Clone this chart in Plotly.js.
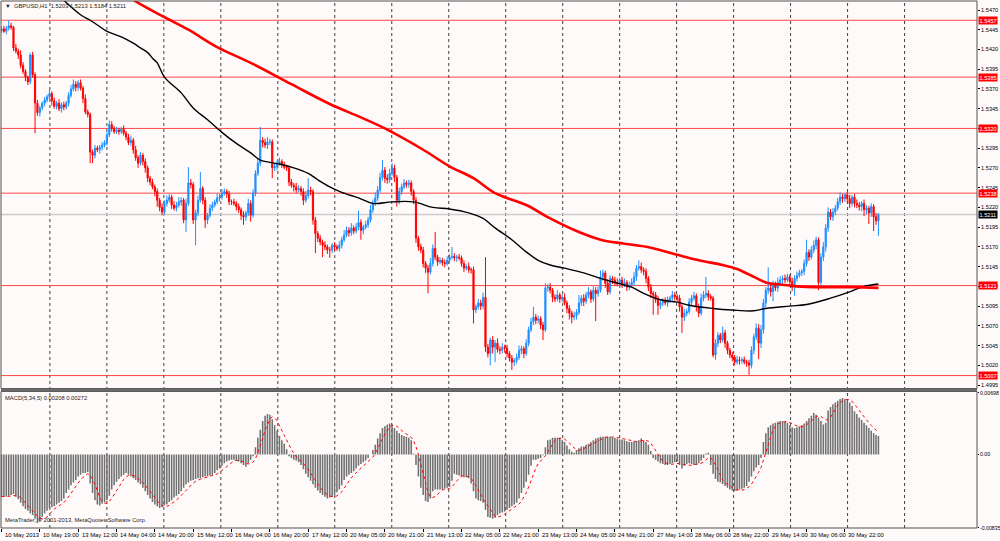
<!DOCTYPE html>
<html><head><meta charset="utf-8">
<script src="https://cdn.plot.ly/plotly-3.0.1.min.js"></script>
<style>html,body{margin:0;padding:0;background:#fffafa;}#chart{width:1000px;height:541px;}</style>
</head><body><div id="chart"></div>
<script>
// ---- DATA ----
const symbolTitle = 'GBPUSD,H1  1.5203 1.5213 1.5184 1.5211';
const macdTitle = 'MACD(5,34,5) 0.00208 0.00272';
const copyright = 'MetaTrader, \u00a9 2001-2013, MetaQuotes Software Corp.';
const firstOpen = 1.5444;
const closes = [
1.5446,1.5443,1.5447,1.5450,1.5448,1.5422,1.5418,1.5413,1.5400,1.5392,1.5385,1.5379,1.5413,1.5388,1.5352,1.5340,
1.5346,1.5352,1.5356,1.5360,1.5364,1.5355,1.5348,1.5352,1.5345,1.5350,1.5347,1.5352,1.5362,1.5370,1.5376,1.5372,
1.5378,1.5371,1.5358,1.5341,1.5338,1.5290,1.5286,1.5295,1.5293,1.5296,1.5299,1.5302,1.5312,1.5325,1.5320,1.5316,
1.5318,1.5316,1.5319,1.5314,1.5309,1.5302,1.5305,1.5293,1.5283,1.5276,1.5286,1.5278,1.5270,1.5257,1.5252,1.5246,
1.5240,1.5229,1.5220,1.5214,1.5225,1.5229,1.5233,1.5223,1.5219,1.5223,1.5227,1.5229,1.5204,1.5225,1.5251,1.5249,
1.5204,1.5213,1.5229,1.5244,1.5229,1.5204,1.5210,1.5219,1.5223,1.5227,1.5232,1.5233,1.5238,1.5240,1.5237,1.5227,
1.5227,1.5225,1.5221,1.5217,1.5210,1.5208,1.5213,1.5225,1.5210,1.5238,1.5263,1.5276,1.5305,1.5302,1.5299,1.5303,
1.5303,1.5270,1.5272,1.5276,1.5278,1.5274,1.5271,1.5270,1.5252,1.5248,1.5246,1.5242,1.5244,1.5240,1.5229,1.5235,
1.5242,1.5240,1.5204,1.5187,1.5181,1.5176,1.5172,1.5170,1.5166,1.5166,1.5172,1.5170,1.5168,1.5172,1.5179,1.5185,
1.5191,1.5188,1.5194,1.5190,1.5195,1.5201,1.5191,1.5195,1.5198,1.5204,1.5217,1.5225,1.5232,1.5242,1.5258,1.5267,
1.5257,1.5255,1.5263,1.5270,1.5258,1.5229,1.5240,1.5246,1.5251,1.5249,1.5251,1.5240,1.5229,1.5181,1.5170,1.5166,
1.5149,1.5143,1.5138,1.5149,1.5168,1.5157,1.5151,1.5153,1.5150,1.5149,1.5153,1.5157,1.5158,1.5156,1.5157,1.5156,
1.5149,1.5143,1.5145,1.5141,1.5141,1.5090,1.5094,1.5099,1.5095,1.5106,1.5043,1.5035,1.5052,1.5043,1.5048,1.5040,
1.5039,1.5043,1.5042,1.5035,1.5029,1.5024,1.5026,1.5030,1.5039,1.5041,1.5035,1.5048,1.5065,1.5075,1.5081,1.5077,
1.5079,1.5071,1.5065,1.5118,1.5119,1.5115,1.5106,1.5104,1.5109,1.5104,1.5106,1.5099,1.5092,1.5086,1.5081,1.5083,
1.5087,1.5099,1.5105,1.5101,1.5109,1.5113,1.5104,1.5115,1.5111,1.5115,1.5132,1.5137,1.5124,1.5113,1.5130,1.5128,
1.5125,1.5123,1.5128,1.5122,1.5125,1.5119,1.5122,1.5125,1.5132,1.5143,1.5145,1.5141,1.5139,1.5130,1.5119,1.5111,
1.5109,1.5103,1.5096,1.5099,1.5101,1.5099,1.5103,1.5105,1.5109,1.5107,1.5105,1.5094,1.5081,1.5086,1.5088,1.5100,
1.5105,1.5108,1.5094,1.5086,1.5105,1.5109,1.5111,1.5107,1.5105,1.5033,1.5048,1.5058,1.5052,1.5061,1.5048,1.5039,
1.5033,1.5030,1.5024,1.5027,1.5026,1.5027,1.5024,1.5023,1.5020,1.5039,1.5056,1.5067,1.5048,1.5065,1.5099,1.5115,
1.5118,1.5113,1.5122,1.5118,1.5125,1.5128,1.5130,1.5128,1.5132,1.5126,1.5119,1.5130,1.5134,1.5137,1.5139,1.5149,
1.5163,1.5157,1.5166,1.5172,1.5179,1.5125,1.5157,1.5170,1.5194,1.5214,1.5208,1.5214,1.5219,1.5227,1.5233,1.5231,
1.5236,1.5231,1.5225,1.5233,1.5225,1.5223,1.5221,1.5225,1.5217,1.5219,1.5213,1.5221,1.5208,1.5203,1.5211];
// upper / lower shadow lengths in pips
const hiWick = [
3,4,3,7,4,2,5,3,6,4,3,2,3,4,3,4,
3,2,4,3,5,3,4,3,5,3,4,3,4,5,6,4,
3,4,3,5,3,2,3,4,3,3,4,3,3,5,4,3,
4,3,3,5,3,4,6,3,5,3,4,3,4,3,3,4,
3,4,3,5,4,6,4,3,5,4,6,4,3,6,20,5,
3,4,6,21,3,4,3,5,4,3,6,4,5,4,3,4,
3,4,3,4,3,5,3,6,4,5,4,6,17,4,5,6,
4,3,4,3,5,3,4,3,3,4,3,5,4,3,4,6,
15,4,3,4,3,4,3,5,3,4,3,4,3,5,4,6,
5,4,6,3,5,15,4,3,5,4,6,5,7,5,6,13,
4,5,6,6,4,3,5,4,5,3,4,3,3,4,3,4,
4,3,4,7,5,21,3,4,3,4,5,4,12,4,3,4,
3,4,3,5,3,4,3,5,4,6,51,4,3,5,4,6,
4,5,3,4,3,4,3,5,6,4,3,5,4,5,13,4,
4,3,4,6,4,5,3,4,6,3,4,5,3,4,3,5,
4,10,4,5,4,6,3,5,4,5,8,4,3,5,4,3,
4,5,3,4,5,3,4,5,6,4,8,5,3,4,3,4,
3,4,5,3,4,5,4,3,5,4,3,4,3,5,4,5,
4,5,3,4,6,5,21,4,3,3,5,4,3,8,4,3,
3,4,3,5,4,3,4,3,4,5,4,6,5,6,5,4,
26,4,5,4,6,5,4,5,4,3,5,4,5,4,3,5,
16,4,5,6,4,3,5,6,5,6,4,5,4,5,6,4,
2,4,5,3,4,5,4,3,5,4,3,4,3,5,2];
const loWick = [
3,2,4,3,3,4,3,5,4,3,5,4,3,4,38,4,
5,3,4,3,3,6,3,4,3,5,4,3,4,3,3,5,
4,3,6,3,4,14,10,4,3,5,4,3,4,3,4,3,
3,4,3,3,4,3,4,5,4,6,3,5,6,5,4,3,
6,8,5,4,3,4,3,5,3,4,3,5,4,15,3,5,
5,32,4,3,5,10,5,3,4,3,3,4,3,3,5,4,
4,3,5,4,6,10,5,4,8,3,4,3,4,6,4,5,
4,13,4,5,3,4,3,4,5,3,6,4,3,5,6,3,
4,5,6,25,5,4,15,4,5,10,4,5,3,4,4,3,
3,5,4,4,3,4,12,5,3,4,3,4,3,4,3,4,
6,5,4,3,6,8,5,4,3,4,4,5,5,6,5,4,
5,6,27,3,4,4,5,3,4,5,3,4,3,4,5,3,
4,5,3,4,5,17,4,3,5,4,6,5,15,8,19,4,
5,4,6,5,4,10,5,4,3,5,6,3,4,3,4,5,
4,5,13,3,5,4,6,4,3,5,4,3,6,8,8,4,
5,3,4,6,3,4,5,3,35,4,3,5,6,4,3,5,
4,3,5,4,3,5,4,3,4,5,3,4,5,6,5,6,
25,4,12,5,4,3,5,4,3,5,4,6,20,5,4,3,
4,3,6,5,3,4,4,5,3,3,6,5,4,3,6,5,
4,5,4,3,5,4,3,5,12,4,5,4,20,6,5,6,
5,6,12,4,5,4,5,4,3,6,5,11,4,3,4,5,
4,5,3,4,5,10,4,5,6,5,4,5,4,3,4,5,
4,5,6,4,5,4,5,6,8,6,14,5,18,5,19];
// MACD main values, in units of 0.0001
const macdMain = [
-48,-48,-48,-47,-46,-45,-48,-51,-55,-59,-62,-64,-67,-69,-73,-78,
-76,-71,-67,-64,-61,-60,-59,-57,-55,-53,-50,-44,-40,-35,-32,-29,
-25,-23,-21,-21,-20,-33,-44,-52,-57,-58,-56,-54,-52,-47,-40,-35,
-31,-28,-25,-23,-21,-23,-25,-27,-29,-32,-34,-38,-42,-46,-50,-54,
-57,-59,-61,-60,-58,-57,-54,-52,-49,-47,-45,-42,-38,-34,-32,-30,
-29,-28,-27,-27,-26,-25,-25,-24,-23,-21,-18,-16,-13,-10,-8,-7,
-6,-6,-7,-8,-10,-12,-14,-10,-6,-2,8,19,28,38,44,46,
45,40,33,27,21,16,12,6,-2,-4,-6,-7,-9,-12,-17,-22,
-26,-30,-34,-38,-41,-44,-46,-48,-50,-49,-48,-46,-43,-40,-35,-29,
-25,-23,-21,-19,-16,-13,-11,-9,-7,-4,0,5,11,18,24,30,
32,34,35,34,30,27,24,22,21,20,19,16,1,-12,-25,-38,
-46,-53,-54,-50,-42,-40,-40,-40,-40,-39,-38,-37,-30,-22,-23,-24,
-25,-26,-26,-27,-33,-42,-50,-52,-53,-55,-63,-71,-72,-73,-72,-69,
-67,-66,-65,-63,-61,-59,-57,-55,-50,-44,-38,-31,-23,-13,-6,-6,
-5,-4,-1,8,16,17,19,19,19,19,16,14,10,6,3,2,
5,7,9,9,11,12,14,16,18,19,20,20,20,20,20,19,
19,18,17,17,16,15,14,14,15,15,16,18,16,14,11,4,
-4,-6,-8,-10,-11,-12,-12,-11,-10,-9,-8,-12,-16,-13,-11,-10,
-11,-12,-12,-10,-7,-4,1,2,-12,-22,-28,-31,-32,-34,-36,-38,
-40,-41,-42,-41,-40,-39,-38,-36,-31,-25,-19,-15,-12,-4,14,24,
31,33,35,36,37,38,38,37,36,33,31,30,31,32,33,35,
38,41,44,47,45,42,38,34,36,50,54,57,59,61,63,64,
63,61,59,55,49,46,42,39,36,33,30,27,24,22,21];
const timeLabels = ['10 May 2013','10 May 19:00','13 May 12:00','14 May 04:00','14 May 20:00','15 May 12:00',
'16 May 04:00','16 May 20:00','17 May 12:00','20 May 05:00','20 May 21:00','21 May 13:00','22 May 05:00',
'22 May 21:00','23 May 13:00','24 May 05:00','24 May 21:00','27 May 14:00','28 May 06:00','28 May 22:00',
'29 May 14:00','30 May 06:00','30 May 22:00'];
const blackMaBar = [25,33,37,40,44,50,55,58,61,63,65,68,75,80,86,92,98,104,108,112,116,122,128,132,137,142,149,155,163,172,180,187,195,201,206,213,218,224,229,235,243,250,257,263,268,275,282,287,297,305,314,319,329,336,346,354,360,366];
const blackMaVal = [1.5485,1.5464,1.5457,1.5451,1.5443,1.5436,1.5428,1.5422,1.5416,1.5409,1.5403,1.5385,1.5365,1.5346,1.5331,1.5315,1.5301,1.5289,1.5280,1.5277,1.5275,1.5270,1.5263,1.5255,1.5246,1.5239,1.5232,1.5225,1.5227,1.5227,1.5220,1.5218,1.5213,1.5206,1.5194,1.5179,1.5166,1.5153,1.5147,1.5143,1.5137,1.5130,1.5124,1.5119,1.5111,1.5103,1.5100,1.5096,1.5092,1.5090,1.5089,1.5092,1.5095,1.5097,1.5105,1.5113,1.5120,1.5123];
const redMaBar = [53,55,68,78,90,104,121,137,150,160,176,187,197,206,219,229,240,250,260,271,282,291,301,307,314,319,326,332,342,355,366];
const redMaVal = [1.5489,1.5483,1.5461,1.5445,1.5423,1.5403,1.5376,1.5351,1.5334,1.5320,1.5293,1.5272,1.5257,1.5238,1.5223,1.5206,1.5190,1.5179,1.5174,1.5169,1.5160,1.5153,1.5147,1.5142,1.5132,1.5125,1.5122,1.5120,1.5119,1.5119,1.5118];
const levels = [1.5457,1.5385,1.5320,1.5238,1.5121,1.5007];
const lastPrice = 1.5211;
const priceTicks = [1.5470,1.5445,1.5420,1.5395,1.5370,1.5345,1.5320,1.5295,1.5270,1.5245,1.5220,1.5195,1.5170,1.5145,1.5120,1.5095,1.5070,1.5045,1.5020,1.4995];
const macdTicks = [0.00698,0,-0.00835];
const macdTickText = ['0.00698','0.00','-0.00835'];

// ---- build ----
const n = closes.length;
const idx = closes.map((c,i)=>i);
const opens = closes.map((c,i)=> i===0 ? firstOpen : closes[i-1]);
const highs = closes.map((c,i)=> +(Math.max(opens[i],c) + hiWick[i]*1e-4).toFixed(5));
const lows  = closes.map((c,i)=> +(Math.min(opens[i],c) - loWick[i]*1e-4).toFixed(5));
const macd = macdMain.map(v=>v*1e-4);
const signal = macd.map((v,i)=>{const s=macd.slice(Math.max(0,i-4),i+1);return s.reduce((a,b)=>a+b,0)/s.length;});
const labelBars = timeLabels.map((t,k)=>k*16);

const FONT = 'Liberation Sans, Arial, sans-serif';
const bg = '#fffafa';

const traces = [
 {type:'candlestick', x:idx, open:opens, high:highs, low:lows, close:closes, xaxis:'x', yaxis:'y',
  increasing:{line:{color:'#1E90FF',width:1}, fillcolor:'#1E90FF'},
  decreasing:{line:{color:'#FF0000',width:1}, fillcolor:'#FF0000'},
  whiskerwidth:0, hoverinfo:'skip', showlegend:false},
 {type:'scatter', mode:'lines', x:blackMaBar, y:blackMaVal, line:{color:'#000000',width:1.4,shape:'spline'}, xaxis:'x', yaxis:'y', hoverinfo:'skip', showlegend:false},
 {type:'scatter', mode:'lines', x:redMaBar, y:redMaVal, line:{color:'#FF0000',width:2.6,shape:'spline'}, xaxis:'x', yaxis:'y', hoverinfo:'skip', showlegend:false},
 {type:'bar', x:idx, y:macd, marker:{color:'#707070',line:{width:0}}, xaxis:'x', yaxis:'y2', hoverinfo:'skip', showlegend:false},
 {type:'scatter', mode:'lines', x:idx, y:signal, line:{color:'#FF0000',width:1,dash:'dot'}, xaxis:'x', yaxis:'y2', hoverinfo:'skip', showlegend:false}
];

const priceDom = [0.2647, 1];
const macdDom = [0, 0.2590];
const shapes = [];
// vertical dotted grid
for (let k=0;k<16;k++){
  const gx = 20.2 + 23.78*k;
  shapes.push({type:'line', xref:'x', yref:'paper', x0:gx, x1:gx, y0:0, y1:1, layer:'below',
    line:{color:'#404040', width:1, dash:'dot'}});
}
// horizontal levels
levels.forEach(l=>shapes.push({type:'line', xref:'paper', yref:'y', x0:0, x1:1, y0:l, y1:l, layer:'below',
  line:{color:'rgba(255,40,40,0.85)', width:1}}));
shapes.push({type:'line', xref:'paper', yref:'y', x0:0, x1:1, y0:lastPrice, y1:lastPrice, layer:'below',
  line:{color:'#cccccc', width:1.5}});
// frames
shapes.push({type:'rect', xref:'paper', yref:'paper', x0:0, x1:1, y0:priceDom[0], y1:priceDom[1], line:{color:'#505050',width:1}, layer:'above'});
shapes.push({type:'rect', xref:'paper', yref:'paper', x0:0, x1:1, y0:macdDom[0], y1:macdDom[1], line:{color:'#505050',width:1}, layer:'above'});
shapes.push({type:'rect', xref:'paper', yref:'paper', x0:0, x1:1, y0:macdDom[1], y1:priceDom[0], fillcolor:'#6a6a6a', line:{width:0}, layer:'above'});

const annotations = [];
levels.forEach(l=>annotations.push({xref:'paper', yref:'y', x:1, y:l, xanchor:'left', yanchor:'middle', xshift:1,
  text:l.toFixed(4), showarrow:false, bgcolor:'#FF0000', borderpad:0.5, font:{family:FONT,size:5.6,color:'#ffffff'}}));
annotations.push({xref:'paper', yref:'y', x:1, y:lastPrice, xanchor:'left', yanchor:'middle', xshift:1,
  text:lastPrice.toFixed(4), showarrow:false, bgcolor:'#000000', borderpad:0.5, font:{family:FONT,size:5.6,color:'#ffffff'}});
annotations.push({xref:'paper', yref:'paper', x:0.002, y:0.9905, xanchor:'left', yanchor:'middle',
  text:'\u25BC  '+symbolTitle, showarrow:false, font:{family:FONT,size:5.8,color:'#222'}});
annotations.push({xref:'paper', yref:'paper', x:0.002, y:0.2467, xanchor:'left', yanchor:'middle',
  text:macdTitle, showarrow:false, font:{family:FONT,size:5.8,color:'#222'}});
annotations.push({xref:'paper', yref:'paper', x:0.002, y:0.006, xanchor:'left', yanchor:'bottom',
  text:copyright, showarrow:false, font:{family:FONT,size:5.8,color:'#222'}});
// time labels: text starts just right of each tick, as in the terminal
timeLabels.forEach((t,k)=>annotations.push({xref:'x', yref:'paper', x:labelBars[k], y:0, yshift:-7,
  xanchor:'left', yanchor:'middle', xshift:k===0?1:1.5, text:t, showarrow:false,
  font:{family:FONT,size:5.9,color:'#000'}}));

const layout = {
  width:1000, height:541, margin:{l:1, r:23, t:1, b:13},
  paper_bgcolor:bg, plot_bgcolor:bg, showlegend:false, bargap:0.35,
  font:{family:FONT, size:6, color:'#000'},
  xaxis:{range:[-0.21,407.14], anchor:'y2', showgrid:false, zeroline:false, showline:false,
    tickvals:labelBars, ticks:'outside', ticklen:3, tickcolor:'#000', tickwidth:1,
    showticklabels:false, rangeslider:{visible:false}, fixedrange:true},
  yaxis:{domain:priceDom, range:[1.49906,1.54814], side:'right', anchor:'x', showgrid:false, zeroline:false,
    tickvals:priceTicks, ticktext:priceTicks.map(v=>v.toFixed(4)), ticks:'outside', ticklen:2, tickcolor:'#000',
    tickfont:{family:FONT,size:5.6,color:'#000'}, fixedrange:true},
  yaxis2:{domain:macdDom, range:[-0.008364,0.007148], side:'right', anchor:'x', showgrid:false, zeroline:false,
    tickvals:macdTicks, ticktext:macdTickText, ticks:'outside', ticklen:1, tickcolor:'#000',
    tickfont:{family:FONT,size:5.2,color:'#000'}, fixedrange:true},
  shapes:shapes, annotations:annotations
};
Plotly.newPlot('chart', traces, layout, {displayModeBar:false, staticPlot:true});
</script></body></html>
